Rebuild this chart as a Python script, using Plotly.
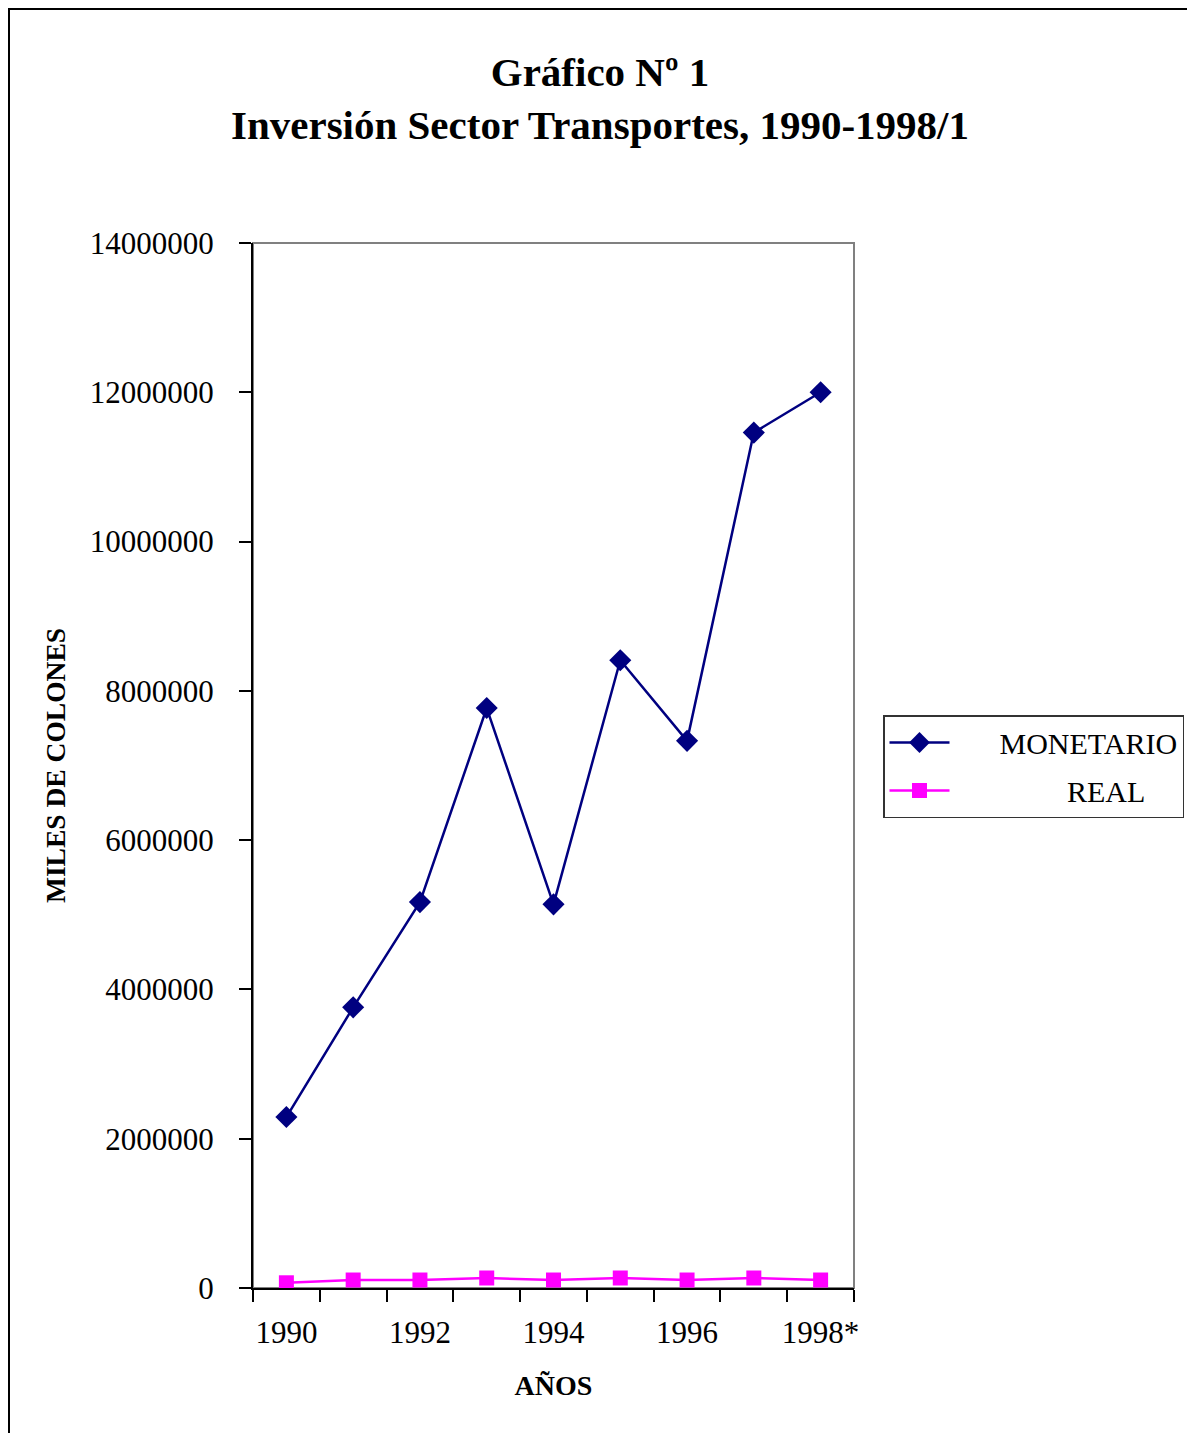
import plotly.graph_objects as go

years = ["1990", "1991", "1992", "1993", "1994", "1995", "1996", "1997", "1998*"]
tick_labels = ["1990", "", "1992", "", "1994", "", "1996", "", "1998*"]
monetario = [2290000, 3760000, 5170000, 7770000, 5140000, 8410000, 7330000, 11460000, 12000000]
real = [70000, 107000, 107000, 134000, 107000, 134000, 107000, 134000, 107000]

SERIF = "Liberation Serif, Times New Roman, serif"
NB = "&nbsp;"

fig = go.Figure()
fig.add_trace(go.Scatter(
    x=years, y=monetario, name=NB * 6 + "MONETARIO", mode="lines+markers",
    legendgroup="a",
    line=dict(color="#000080", width=2.5),
    marker=dict(symbol="diamond", size=17, color="#000080"),
))
fig.add_trace(go.Scatter(
    x=years, y=real, name=NB * 15 + "REAL", mode="lines+markers",
    legendgroup="b",
    line=dict(color="#FF00FF", width=2.5),
    marker=dict(symbol="square", size=15, color="#FF00FF"),
))

OFF = 8  # page offset of the figure (body margin)
W, H = 1195 - OFF, 1433 - OFF
L, R, T, B = 253 - OFF, 854 - OFF, 243 - OFF, 1288 - OFF
pw, ph = R - L, B - T

def px(x):
    return (x - OFF - L) / pw

def py(y):
    return (B - (y - OFF)) / ph

fig.update_layout(
    width=W, height=H,
    margin=dict(l=L, r=W - R, t=T, b=H - B, autoexpand=False),
    paper_bgcolor="white", plot_bgcolor="white",
    font=dict(family=SERIF, color="black", size=28),
    title=dict(
        text="<b>Gráfico Nº 1</b><br><b>Inversión Sector Transportes, 1990-1998/1</b>",
        x=(600 - OFF) / W, xref="container", xanchor="center",
        y=1 - 78 / H, yref="container", yanchor="middle",
        font=dict(family=SERIF, size=41, color="black"),
    ),
    showlegend=True,
    legend=dict(
        x=px(883), y=py(715), xanchor="left", yanchor="top",
        bordercolor="#333333", borderwidth=1.5, bgcolor="white",
        font=dict(family=SERIF, size=30, color="black"),
        traceorder="grouped", tracegroupgap=6, itemwidth=60,
    ),
    xaxis=dict(
        type="category", tickmode="array", tickvals=years, ticktext=tick_labels,
        range=[-0.5, 8.5], tickangle=0,
        tickson="boundaries", ticks="outside", ticklen=12, tickwidth=1.5, tickcolor="black",
        showline=True, linecolor="black", linewidth=2, showgrid=False, zeroline=False,
        tickfont=dict(family=SERIF, size=31, color="black"),
        ticklabelstandoff=16,
        title=dict(text="<b>AÑOS</b>", font=dict(family=SERIF, size=28, color="black"), standoff=26),
        automargin=False,
    ),
    yaxis=dict(
        range=[0, 14000000], dtick=2000000, tick0=0, tickformat="d",
        ticks="outside", ticklen=12, tickwidth=1.5, tickcolor="black",
        showline=True, linecolor="black", linewidth=2, showgrid=False, zeroline=False,
        tickfont=dict(family=SERIF, size=31, color="black"),
        ticklabelstandoff=19,
        title=dict(text="<b>MILES DE COLONES</b>", font=dict(family=SERIF, size=27.5, color="black"), standoff=16),
        automargin=False,
    ),
    shapes=[
        dict(type="rect", xref="paper", yref="paper", x0=0, x1=1, y0=0, y1=1,
             line=dict(color="#808080", width=2), layer="below"),
        dict(type="rect", xref="paper", yref="paper",
             x0=px(9), x1=px(1230), y0=py(1460), y1=py(9),
             line=dict(color="black", width=2), layer="below"),
    ],
)

fig.write_html("out.html")
